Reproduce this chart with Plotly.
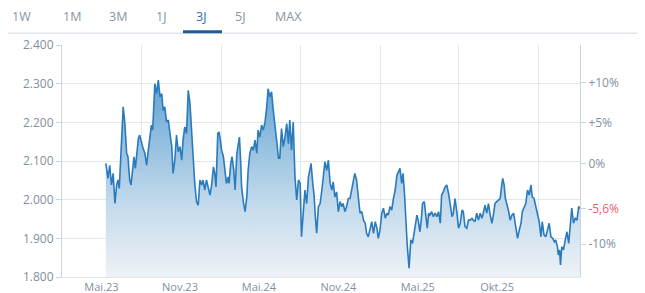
import plotly.graph_objects as go
import pandas as pd

# ---------------- data ----------------
start_date = "2023-02-08"
day_offsets = [
    0, 5, 9, 13, 17, 21, 25, 28, 31, 34, 38, 40, 44, 48, 51, 55, 58, 62, 65, 68,
    71, 75, 78, 82, 86, 90, 94, 98, 102, 105, 108, 111, 113, 117, 121, 125, 129, 132, 136, 140,
    144, 148, 152, 155, 159, 163, 167, 171, 175, 178, 182, 186, 190, 194, 198, 201, 205, 209, 213, 217,
    221, 224, 228, 232, 236, 240, 244, 248, 251, 254, 258, 261, 264, 267, 271, 275, 278, 282, 284, 288,
    291, 295, 298, 302, 305, 308, 311, 313, 317, 321, 325, 328, 332, 336, 340, 344, 348, 351, 355, 359,
    363, 367, 371, 374, 378, 382, 386, 390, 394, 398, 401, 405, 409, 413, 417, 421, 424, 428, 432, 436,
    440, 444, 448, 451, 455, 459, 463, 467, 471, 473, 477, 480, 483, 486, 490, 494, 498, 501, 505, 509,
    513, 517, 521, 524, 528, 532, 536, 540, 544, 547, 551, 555, 559, 563, 567, 571, 574, 578, 582, 586,
    590, 594, 598, 601, 605, 609, 613, 617, 621, 625, 628, 632, 636, 640, 644, 648, 651, 655, 659, 663,
    667, 671, 674, 678, 682, 685, 688, 691, 695, 699, 703, 707, 711, 714, 717, 720, 724, 727, 730, 734,
    738, 741, 744, 747, 751, 755, 759, 763, 767, 771, 774, 778, 782, 786, 790, 794, 798, 801, 805, 809,
    813, 817, 821, 824, 828, 832, 836, 840, 844, 847, 851, 855, 859, 863, 867, 870, 874, 878, 882, 886,
    890, 894, 897, 901, 905, 909, 913, 915, 918, 921, 924, 928, 932, 936, 940, 944, 949, 953, 957, 960,
    964, 968, 972, 976, 980, 983, 987, 991, 995, 999, 1003, 1006, 1010, 1014, 1018, 1022, 1026, 1030, 1034, 1037,
    1041, 1043, 1046, 1048, 1051, 1055, 1059, 1063, 1067, 1070, 1074, 1078, 1082, 1086, 1090, 1094,
]
index_values = [
    2094, 2055, 2089, 2038, 2068, 1990, 2038, 2051, 2029, 2102, 2175, 2240, 2197, 2120, 2111, 2051, 2038, 2085, 2111, 2081,
    2120, 2158, 2167, 2145, 2132, 2120, 2089, 2128, 2171, 2193, 2180, 2257, 2300, 2274, 2309, 2266, 2274, 2231, 2240, 2201,
    2206, 2171, 2137, 2068, 2102, 2167, 2124, 2137, 2102, 2154, 2188, 2171, 2283, 2249, 2162, 2094, 2042, 1995, 1986, 2051,
    2038, 2051, 2025, 2051, 2033, 2012, 2038, 2085, 2068, 2033, 2171, 2175, 2154, 2128, 2111, 2076, 2042, 2059, 2042, 2094,
    2111, 2076, 2025, 2120, 2145, 2162, 2094, 2033, 1995, 1969, 2007, 2076, 2120, 2137, 2128, 2154, 2120, 2180, 2162, 2193,
    2180, 2201, 2240, 2287, 2266, 2279, 2231, 2180, 2150, 2107, 2107, 2184, 2137, 2162, 2197, 2145, 2206, 2128, 2201, 2059,
    1999, 2051, 2042, 1904, 1956, 2025, 1990, 2059, 2081, 2094, 2042, 2012, 1956, 1913, 1982, 1990, 2025, 2051, 2098, 2076,
    2102, 2042, 2025, 2046, 2007, 2020, 1969, 1995, 1982, 1990, 1969, 1982, 2003, 2003, 2033, 2051, 2068, 2051, 2007, 1965,
    1969, 1947, 1939, 1913, 1904, 1921, 1943, 1913, 1943, 1926, 1900, 1921, 1965, 1978, 1952, 1965, 1960, 1982, 1973, 2003,
    2025, 2063, 2072, 2081, 2042, 2068, 2025, 1947, 1878, 1823, 1896, 1887, 1913, 1930, 1960, 1947, 1917, 1947, 1990, 1995,
    1947, 1926, 1965, 1960, 1969, 1956, 1965, 1956, 1969, 1939, 2012, 2020, 2033, 2038, 2016, 1990, 1956, 1965, 2003, 1969,
    1926, 1939, 1973, 1969, 1930, 1926, 1947, 1947, 1952, 1947, 1943, 1965, 1947, 1965, 1952, 1965, 1986, 1965, 1990, 1960,
    1939, 1965, 1990, 1995, 1999, 2003, 2042, 2055, 2038, 2003, 1990, 1973, 1947, 1960, 1965, 1930, 1900, 1921, 1939, 1969,
    1978, 1990, 2025, 2012, 2038, 2007, 2003, 1982, 1960, 1943, 1904, 1943, 1909, 1904, 1921, 1939, 1904, 1900, 1891, 1896,
    1878, 1857, 1870, 1831, 1878, 1870, 1896, 1917, 1887, 1930, 1978, 1939, 1952, 1947, 1982, 1977,
]
tab_labels = ["1W", "1M", "3M", "1J", "3J", "5J", "MAX"]
active_tab = "3J"
x_tick_dates = ["2023-01-29", "2023-07-29", "2024-01-27", "2024-07-28", "2025-01-27", "2025-07-29"]
x_tick_labels = ["Mai.23", "Nov.23", "Mai.24", "Nov.24", "Mai.25", "Okt.25"]
x_grid_dates = ["2023-05-01", "2023-11-01", "2024-05-01", "2024-11-01", "2025-05-01", "2025-11-01"]
y_ticks = [1800, 1900, 2000, 2100, 2200, 2300, 2400]
pct_ticks = [10, 5, 0, -10]

# ---------------- derived ----------------
dates = pd.to_datetime(start_date) + pd.to_timedelta(day_offsets, unit="D")
base = index_values[0]
pct_values = [(v / base - 1) * 100 for v in index_values]
last_pct = pct_values[-1]

def fmt_pct(p, dec=0):
    if round(p, dec) == 0:
        return "0%"
    s = f"{p:+.{dec}f}".replace(".", ",")
    return s + "%"

y_min, y_max = y_ticks[0], y_ticks[-1]
pct_range = [(y_min / base - 1) * 100, (y_max / base - 1) * 100]
r_tickvals = pct_ticks + [last_pct]
r_ticktext = [fmt_pct(p) for p in pct_ticks] + [
    "<span style='color:#e8606e'>" + fmt_pct(last_pct, 1) + "</span>"
]

# ---------------- layout constants ----------------
# the page body has an 8px margin, so the figure starts at (8, 8) in the window
OFF = 8
WIN_W, WIN_H = 645, 293
W, H = WIN_W - OFF, WIN_H - OFF
PLOT_L, PLOT_R, PLOT_T, PLOT_B = 62, 580, 45, 277   # window pixels
ML, MR, MT, MB = PLOT_L - OFF, WIN_W - PLOT_R, PLOT_T - OFF, WIN_H - PLOT_B
PW, PH = W - ML - MR, H - MT - MB
def px_x(px):
    return (px - PLOT_L) / PW
def px_y(py):
    return (PLOT_B - py) / PH

LINE = "#2a7bbd"
GRID = "#e3e8ed"
AXIS = "#c9d5df"
TXT = "#8090a0"
FONT = "Open Sans"

fig = go.Figure()
fig.add_trace(go.Scatter(
    x=dates, y=index_values, mode="lines",
    line=dict(color=LINE, width=1.6),
    fill="tozeroy",
    fillgradient=dict(type="vertical", start=y_min, stop=2310,
                      colorscale=[[0, "#eef2f6"], [0.4, "#bfd8eb"], [1, "#62a2d2"]]),
    hoverinfo="skip", showlegend=False,
))
fig.add_trace(go.Scatter(
    x=dates, y=pct_values, yaxis="y2", mode="lines",
    line=dict(color="rgba(0,0,0,0)", width=0),
    hoverinfo="skip", showlegend=False,
))

fig.update_layout(
    width=W, height=H,
    margin=dict(l=ML, r=MR, t=MT, b=MB, autoexpand=False),
    paper_bgcolor="white", plot_bgcolor="white",
    separators=",.",
    font=dict(family=FONT, size=11, color=TXT),
    xaxis=dict(
        type="date", range=["2022-10-30", "2026-02-05"], automargin=False,
        tickmode="array", tickvals=x_tick_dates, ticktext=x_tick_labels,
        showgrid=False, ticks="", showline=True, linecolor="#dfe5ea", linewidth=1,
        tickfont=dict(size=11, color=TXT), zeroline=False,
        minor=dict(tickmode="array", tickvals=x_grid_dates, showgrid=True,
                   gridcolor=GRID, gridwidth=1, ticks=""),
    ),
    yaxis=dict(
        range=[y_min, y_max], tickmode="array", tickvals=y_ticks, automargin=False,
        tickformat=",d", showgrid=True, gridcolor=GRID, gridwidth=1,
        showline=True, linecolor=AXIS, linewidth=1,
        ticks="outside", ticklen=5, tickcolor=AXIS, zeroline=False,
        tickfont=dict(size=12, color=TXT),
    ),
    yaxis2=dict(
        overlaying="y", side="right", range=pct_range, automargin=False,
        tickmode="array", tickvals=r_tickvals, ticktext=r_ticktext,
        showgrid=False, showline=True, linecolor=AXIS, linewidth=1,
        ticks="outside", ticklen=5, tickcolor=AXIS, zeroline=False,
        tickfont=dict(size=12, color=TXT),
    ),
)

# tab bar (window pixel positions)
tab_x_px = [21.7, 71.7, 118, 161.7, 201.7, 240, 288]
for lbl, xp in zip(tab_labels, tab_x_px):
    fig.add_annotation(
        xref="paper", yref="paper", x=px_x(xp), y=px_y(16),
        text=lbl, showarrow=False, xanchor="center", yanchor="middle",
        font=dict(family=FONT, size=12.5, color="#2a6db5" if lbl == active_tab else "#8695a3"),
    )
fig.add_shape(type="line", xref="paper", yref="paper",
              x0=px_x(0), x1=px_x(WIN_W), y0=px_y(33.3), y1=px_y(33.3),
              line=dict(color="#dfe5ea", width=1.5))
fig.add_shape(type="line", xref="paper", yref="paper",
              x0=px_x(183), x1=px_x(222), y0=px_y(31.7), y1=px_y(31.7),
              line=dict(color="#1f5c99", width=3))

fig.write_html("out.html")
